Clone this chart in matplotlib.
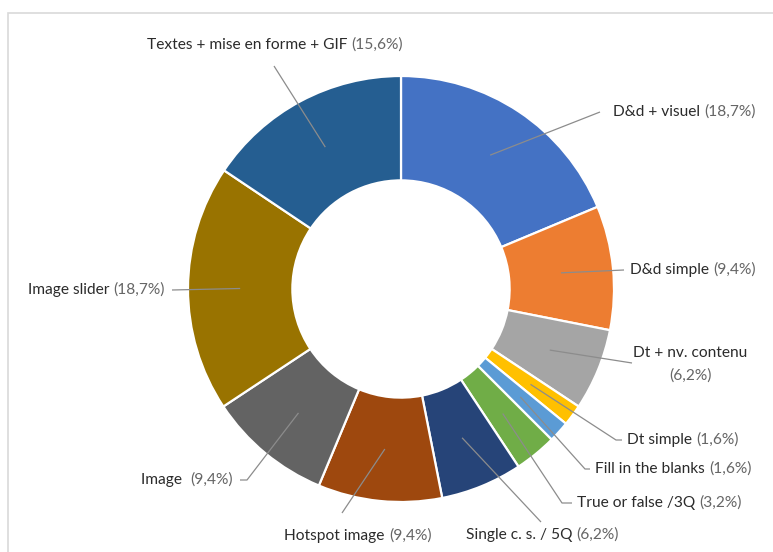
import matplotlib.pyplot as plt
import numpy as np
from matplotlib.patches import Rectangle

# donnees du graphique (sens horaire depuis midi)
labels = ["D&d + visuel", "D&d simple", "Dt + nv. contenu", "Dt simple",
          "Fill in the blanks", "True or false /3Q", "Single c. s. / 5Q",
          "Hotspot image", "Image ", "Image slider", "Textes + mise en forme + GIF"]
values = [18.7, 9.4, 6.2, 1.6, 1.6, 3.2, 6.2, 9.4, 9.4, 18.7, 15.6]
pct_labels = ["(18,7%)", "(9,4%)", "(6,2%)", "(1,6%)", "(1,6%)", "(3,2%)",
              "(6,2%)", "(9,4%)", "(9,4%)", "(18,7%)", "(15,6%)"]
colors = ["#4472C4", "#ED7D31", "#A5A5A5", "#FFC000", "#5B9BD5", "#70AD47",
          "#264478", "#9E480E", "#636363", "#997300", "#255E91"]

W, H = 773, 552
cx, cy, R = 401, H - 289, 213

fig = plt.figure(figsize=(W / 100, H / 100), dpi=100)
ax = fig.add_axes([0, 0, 1, 1])
ax.set_xlim(0, W)
ax.set_ylim(0, H)
ax.set_aspect("equal")
ax.axis("off")

# cadre gris clair
ax.add_patch(Rectangle((8, -10), W, H - 13 + 10, fill=False, ec="#d9d9d9", lw=1.2))

wedges, _ = ax.pie(values, colors=colors, startangle=90, counterclock=False,
                   center=(cx, cy), radius=R,
                   wedgeprops=dict(width=R * 0.49, edgecolor="white", linewidth=1.6))
ax.set_xlim(0, W)
ax.set_ylim(0, H)

plt.rcParams['font.family'] = ['Lato', 'DejaVu Sans']
FS = 11.2
NAME_C = "#2b2b2b"
PCT_C = "#666666"
LINE_C = "#8c8c8c"

# (x, y) du texte en pixels (y depuis le haut), alignement, coude, fin de ligne
layout = [
    ((613, 112), "left",   None,        (600, 112)),
    ((630, 270), "left",   None,        (624, 270)),
    ((690, 353), "center", None,        (632, 363)),
    ((627, 440), "left",   (616, 440),  (622, 440)),
    ((595, 469), "left",   (585, 469),  (590, 469)),
    ((577, 503), "left",   (562, 503),  (572, 503)),
    ((466, 535), "left",   None,        (541, 522)),
    ((358, 536), "center", None,        (342, 513)),
    ((233, 480), "right",  (247, 480),  (240, 480)),
    ((165, 290), "right",  None,        (172, 290)),
    ((275, 45),  "center", None,        (274, 66)),
]

fig.canvas.draw()
renderer = fig.canvas.get_renderer()


def two_color(x, y, name, pct, ha):
    t1 = ax.text(0, y, name + " ", fontsize=FS, color=NAME_C, va="center", ha="left")
    t2 = ax.text(0, y, pct, fontsize=FS, color=PCT_C, va="center", ha="left")
    w1 = t1.get_window_extent(renderer).width
    w2 = t2.get_window_extent(renderer).width
    tot = w1 + w2
    if ha == "left":
        x0 = x
    elif ha == "right":
        x0 = x - tot
    else:
        x0 = x - tot / 2
    t1.set_x(x0)
    t2.set_x(x0 + w1)


mid_r = R - R * 0.49 / 2
cum = 0
for i, v in enumerate(values):
    mid = 90 - (cum + v / 2) / 100 * 360
    cum += v
    ax_ = cx + mid_r * np.cos(np.radians(mid))
    ay_ = cy + mid_r * np.sin(np.radians(mid))
    (tx, ty), ha, elbow, end = layout[i]
    pts = [(ax_, ay_)]
    if elbow is not None:
        pts.append((elbow[0], H - elbow[1]))
    pts.append((end[0], H - end[1]))
    xs, ys = zip(*pts)
    ax.plot(xs, ys, color=LINE_C, lw=0.9, solid_capstyle="butt")
    if i == 2:
        ax.text(tx, H - ty, labels[i], fontsize=FS, color=NAME_C, va="center", ha="center")
        ax.text(tx, H - ty - 23, pct_labels[i], fontsize=FS, color=PCT_C, va="center", ha="center")
    else:
        two_color(tx, H - ty, labels[i], pct_labels[i], ha)

fig.savefig("out.png", dpi=100)
